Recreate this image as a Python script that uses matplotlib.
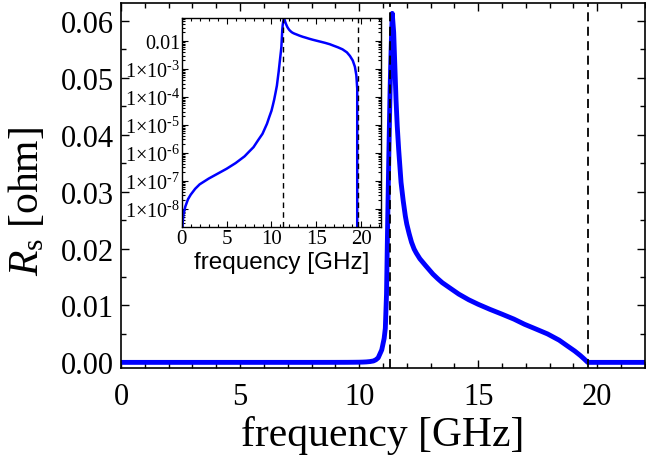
import matplotlib
matplotlib.use("Agg")
import matplotlib.pyplot as plt
from matplotlib.ticker import (MultipleLocator, FixedLocator, FixedFormatter,
                               LogLocator, NullFormatter, FormatStrFormatter)

# surface resistance vs frequency
freq = [0.0, 0.1, 0.2, 0.4, 0.7, 1.0, 1.5, 2.0, 3.0, 4.0, 5.0, 6.0, 7.0, 7.5,
        8.0, 8.5, 9.0, 9.5, 9.75, 10.0, 10.15, 10.3, 10.45, 10.6, 10.7, 10.8,
        10.95, 11.05, 11.1, 11.15, 11.2, 11.25, 11.3, 11.35, 11.39, 11.45, 11.5,
        11.55, 11.6, 11.66, 11.76, 11.85, 11.94, 12.0, 12.1, 12.2, 12.31, 12.4,
        12.55, 12.79, 13.1, 13.3, 13.49, 13.8, 14.18, 14.6, 15.0, 15.5, 15.98,
        16.5, 16.94, 17.4, 17.91, 18.4, 18.74, 19.05, 19.29, 19.45, 19.55, 19.6,
        20.0, 22.0]
rs = [0.0, 3e-9, 6.5e-9, 1.2e-8, 2.2e-8, 3.2e-8, 5.2e-8, 7.5e-8, 1.2e-7, 1.8e-7,
      2.7e-7, 4.3e-7, 7.5e-7, 1.1e-6, 1.6e-6, 2.8e-6, 4.8e-6, 1.1e-5, 1.9e-5,
      3.2e-5, 5e-5, 8e-5, 1.4e-4, 2.5e-4, 4.5e-4, 8e-4, 2.2e-3, 4.2e-3, 6e-3,
      0.012, 0.025, 0.037, 0.048, 0.056, 0.0613, 0.058, 0.052, 0.046, 0.0415,
      0.0374, 0.0316, 0.0284, 0.0257, 0.0243, 0.0226, 0.0211, 0.0199, 0.0192,
      0.0182, 0.0170, 0.0155, 0.0147, 0.0140, 0.0131, 0.0120, 0.0110, 0.0102,
      0.0093, 0.0085, 0.0076, 0.0067, 0.0059, 0.0050, 0.0039, 0.0029, 0.0020,
      0.0012, 0.0006, 0.0002, 0.0, 0.0, 0.0]
edges = [11.3, 19.6]

inset_yticks = [1e-8, 1e-7, 1e-6, 1e-5, 1e-4, 1e-3, 1e-2]
inset_ylabels = [r"1$\times$10$^{\text{-}8}$", r"1$\times$10$^{\text{-}7}$",
                 r"1$\times$10$^{\text{-}6}$", r"1$\times$10$^{\text{-}5}$",
                 r"1$\times$10$^{\text{-}4}$", r"1$\times$10$^{\text{-}3}$", "0.01"]

plt.rcParams["font.family"] = "Liberation Serif"
plt.rcParams["mathtext.fontset"] = "custom"
plt.rcParams["mathtext.rm"] = "Liberation Serif"
plt.rcParams["mathtext.it"] = "Liberation Serif:italic"

fig = plt.figure(figsize=(6.46, 4.56), dpi=100)
ax = fig.add_axes([0.1873, 0.190, 0.811, 0.801])
ax.plot(freq, rs, color="#0000ff", lw=3.5, solid_joinstyle="round")
for e in edges:
    ax.axvline(e, color="black", ls=(0, (5, 3)), lw=1.3)
ax.set_xlim(0, 22)
ax.set_ylim(-0.00105, 0.0631)
ax.xaxis.set_major_locator(MultipleLocator(5))
ax.xaxis.set_minor_locator(MultipleLocator(1))
ax.yaxis.set_major_locator(MultipleLocator(0.01))
ax.yaxis.set_minor_locator(MultipleLocator(0.005))
ax.yaxis.set_major_formatter(FormatStrFormatter("%.2f"))
ax.tick_params(which="both", direction="in", top=True, right=True, width=1.0)
ax.tick_params(which="major", length=6, labelsize=22)
ax.tick_params(which="minor", length=3.5)
ax.tick_params(axis="x", pad=10)
ax.tick_params(axis="y", pad=5)
for s in ax.spines.values():
    s.set_linewidth(1.2)
ax.set_xlabel("frequency [GHz]", fontsize=30, labelpad=3)
ax.set_ylabel(r"$R_\mathrm{s}$ [ohm]", fontsize=30)
ax.yaxis.set_label_coords(-0.141, 0.46)

# inset on log scale
ins = fig.add_axes([0.2813, 0.5007, 0.3085, 0.4577])
ins.plot(freq, rs, color="#0000ff", lw=1.8)
for e in edges:
    ins.axvline(e, color="black", ls=(0, (4, 3)), lw=1.0)
ins.set_yscale("log")
ins.set_xlim(0, 22.2)
ins.set_ylim(2.3e-9, 0.066)
ins.xaxis.set_major_locator(MultipleLocator(5))
ins.xaxis.set_minor_locator(MultipleLocator(1))
ins.yaxis.set_major_locator(FixedLocator(inset_yticks))
ins.yaxis.set_major_formatter(FixedFormatter(inset_ylabels))
ins.yaxis.set_minor_locator(LogLocator(base=10, subs=range(2, 10), numticks=20))
ins.yaxis.set_minor_formatter(NullFormatter())
ins.tick_params(which="both", direction="in", top=True, right=True, width=0.8)
ins.tick_params(which="major", length=4, pad=2)
ins.tick_params(which="minor", length=2.5)
ins.tick_params(axis="x", labelsize=15)
ins.tick_params(axis="y", labelsize=14.5, pad=1)
for s in ins.spines.values():
    s.set_linewidth(1.0)
ins.set_xlabel("frequency [GHz]", fontsize=17.5, family="Liberation Sans", labelpad=2)

fig.savefig("out.png", dpi=100)
